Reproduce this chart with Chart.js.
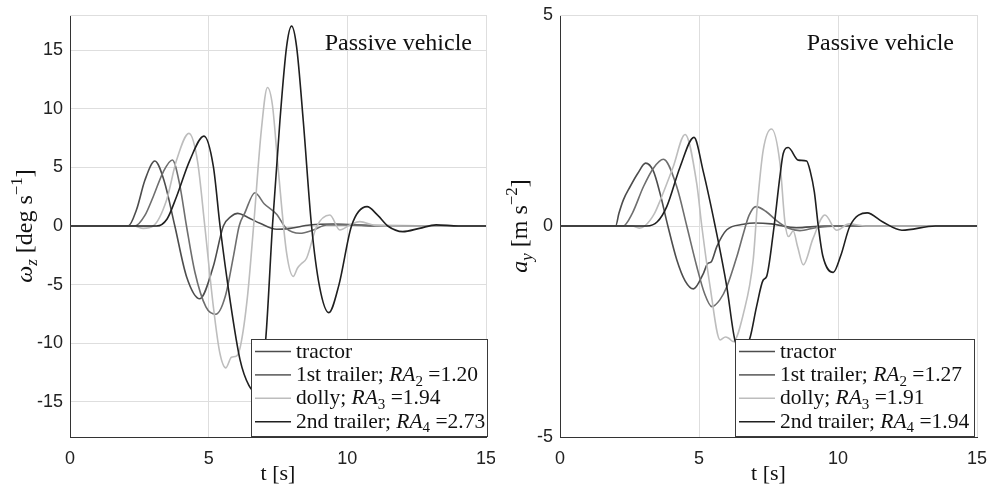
<!DOCTYPE html>
<html>
<head>
<meta charset="utf-8">
<script src="https://cdn.jsdelivr.net/npm/chart.js@4.4.1/dist/chart.umd.min.js"></script>
<style>
  html, body { margin: 0; padding: 0; background: #fff; }
  #wrap { position: relative; width: 990px; height: 487px; }
  canvas { position: absolute; top: 0; }
  #yaw { left: 0; }
  #acc { left: 495px; }
</style>
</head>
<body>
<div id="wrap">
  <canvas id="yaw" width="495" height="487"></canvas>
  <canvas id="acc" width="495" height="487"></canvas>
</div>
<script>
// series names + RA values shown in legend
const seriesNames = ['tractor', '1st trailer', 'dolly', '2nd trailer'];
const raYaw = [null, '1.20', '1.94', '2.73'];
const raAcc = [null, '1.27', '1.91', '1.94'];
const seriesColors = ['#4d4d4d', '#6e6e6e', '#bdbdbd', '#1f1f1f'];

const xTicks = [0, 5, 10, 15];
const yawTicks = [-15, -10, -5, 0, 5, 10, 15];
const accTicks = [-5, 0, 5];

// yaw rate, deg/s
const yawTractorT = [0, 2.1, 2.4, 2.7, 3.06, 3.4, 3.78, 4.2, 4.68, 5.16, 5.53, 5.8, 6.05, 6.4, 6.85, 7.45, 7.93, 8.65, 9.5, 11, 15];
const yawTractorV = [0, 0, 1.4, 3.9, 5.54, 3.8, 0, -4.3, -6.2, -3.5, 0, 0.8, 1.08, 0.75, 0.23, -0.28, -0.2, 0.08, 0.17, 0.03, 0];
const yawTrailer1T = [0, 2.34, 2.7, 3.0, 3.36, 3.69, 3.95, 4.2, 4.5, 4.9, 5.26, 5.6, 5.9, 6.1, 6.3, 6.67, 7.0, 7.45, 7.8, 8.29, 8.77, 9.25, 10, 11, 15];
const yawTrailer1V = [0, 0, 0.9, 2.5, 4.6, 5.63, 3.6, 0, -3.9, -6.9, -7.53, -6.0, -2.5, 0, 1.1, 2.84, 1.9, 1.0, -0.2, -0.62, -0.34, 0.09, 0.1, 0, 0];
const yawDollyT = [0, 2.3, 2.64, 3.0, 3.48, 3.84, 4.29, 4.6, 4.86, 5.17, 5.4, 5.62, 5.82, 6.0, 6.15, 6.4, 6.62, 6.9, 7.12, 7.3, 7.5, 7.81, 8.05, 8.2, 8.35, 8.53, 8.89, 9.37, 9.73, 10.1, 10.45, 11, 12, 15];
const yawDollyV = [0, 0, -0.2, 0, 2.2, 5.6, 7.9, 5.5, 0, -6.9, -10.8, -12.1, -11.2, -11.1, -10.2, -6.0, 0, 8.2, 11.82, 10.3, 5.06, -2.3, -4.3, -3.6, -3.2, -2.75, -0.06, 0.94, -0.34, 0.1, 0.37, 0.05, 0, 0];
const yawTrailer2T = [0, 3.12, 3.5, 3.84, 4.32, 4.83, 5.17, 5.41, 5.77, 6.13, 6.45, 6.68, 6.9, 7.06, 7.3, 7.57, 7.81, 7.99, 8.17, 8.41, 8.71, 9.0, 9.33, 9.7, 10.15, 10.71, 11.1, 11.46, 12.0, 12.6, 13.2, 14, 15];
const yawTrailer2V = [0, 0, 0.6, 2.5, 5.6, 7.67, 5.06, 0, -6.3, -11.4, -13.6, -14.1, -12.5, -9.58, 0, 9.0, 15.3, 17.05, 15.3, 9.0, 0, -5.2, -7.39, -5.0, 0, 1.65, 0.9, 0, -0.48, -0.2, 0.1, 0, 0];

// lateral acceleration, m/s^2
const accTractorT = [0, 2.0, 2.12, 2.28, 2.52, 2.8, 3.08, 3.36, 3.6, 3.88, 4.2, 4.5, 4.8, 5.16, 5.3, 5.45, 5.64, 6.0, 6.6, 7.0, 7.6, 8.5, 9.5, 15];
const accTractorV = [0, 0, 0.3, 0.62, 0.93, 1.25, 1.49, 1.3, 0.77, 0, -0.8, -1.3, -1.49, -1.12, -0.9, -0.84, -0.49, -0.09, 0.04, 0.07, 0.05, -0.04, 0, 0];
const accTrailer1T = [0, 2.27, 2.6, 3.0, 3.36, 3.72, 4.2, 4.56, 4.92, 5.2, 5.46, 5.75, 6.0, 6.36, 6.6, 6.8, 7.05, 7.4, 7.8, 8.2, 8.63, 9.2, 10, 15];
const accTrailer1V = [0, 0, 0.3, 0.93, 1.37, 1.58, 0.93, 0, -0.96, -1.6, -1.91, -1.75, -1.44, -0.73, -0.17, 0.25, 0.46, 0.35, 0.12, -0.05, -0.11, -0.04, 0, 0];
const accDollyT = [0, 2.6, 2.85, 3.05, 3.4, 3.6, 4.07, 4.5, 4.92, 5.1, 5.4, 5.76, 5.95, 6.07, 6.23, 6.6, 6.95, 7.1, 7.31, 7.61, 7.91, 8.09, 8.22, 8.39, 8.55, 8.75, 9.1, 9.53, 9.95, 10.4, 11, 15];
const accDollyV = [0, 0, -0.05, 0, 0.3, 0.6, 1.4, 2.17, 1.0, 0, -1.44, -2.7, -2.63, -2.66, -2.74, -2.07, -0.8, 0.5, 1.8, 2.3, 1.5, 0.1, -0.25, -0.12, -0.5, -0.92, -0.3, 0.26, -0.1, 0.05, 0, 0];
const accTrailer2T = [0, 3.12, 3.5, 3.84, 4.32, 4.82, 5.15, 5.58, 6.0, 6.29, 6.55, 6.83, 7.07, 7.31, 7.43, 7.67, 7.91, 8.03, 8.21, 8.57, 8.87, 9.0, 9.15, 9.29, 9.45, 9.83, 10.1, 10.43, 11.05, 11.6, 12.3, 13.5, 15];
const accTrailer2V = [0, 0, 0.1, 0.46, 1.4, 2.1, 1.3, 0, -1.44, -2.7, -2.95, -2.66, -1.91, -1.28, -1.2, -0.17, 1.17, 1.72, 1.86, 1.56, 1.54, 1.3, 0.8, 0, -0.7, -1.1, -0.7, 0, 0.31, 0.1, -0.1, 0, 0];

const SERIF = '"Liberation Serif", "Times New Roman", serif';
const SANS = '"Liberation Sans", Arial, sans-serif';

function pts(ts, vs) {
  return ts.map((t, i) => ({ x: t, y: vs[i] }));
}

// draws text made of pieces (italic, sub/superscript)
function drawRich(ctx, x, y, parts, size, align) {
  const small = Math.round(size * 0.7);
  const fonts = parts.map(p => (p.it ? 'italic ' : '') + (p.sub || p.sup ? small : size) + 'px ' + SERIF);
  let w = 0;
  parts.forEach((p, i) => { ctx.font = fonts[i]; w += ctx.measureText(p.t).width; });
  let cx = x;
  if (align === 'center') cx = x - w / 2;
  if (align === 'right') cx = x - w;
  ctx.textBaseline = 'alphabetic';
  ctx.textAlign = 'left';
  parts.forEach((p, i) => {
    ctx.font = fonts[i];
    let dy = 0;
    if (p.sub) dy = size * 0.22;
    if (p.sup) dy = -size * 0.4;
    ctx.fillText(p.t, cx, y + dy);
    cx += ctx.measureText(p.t).width;
  });
}

function legendParts(ra) {
  return seriesNames.map((n, i) => {
    if (!ra[i]) return [{ t: n }];
    return [{ t: n + '; ' }, { t: 'RA', it: 1 }, { t: String(i + 1), sub: 1 }, { t: ' =' + ra[i] }];
  });
}

function makeDecor(cfg) {
  return {
    id: 'decor',
    beforeDatasetsDraw(chart) {
      const ctx = chart.ctx, a = chart.chartArea;
      ctx.save();
      ctx.strokeStyle = '#dedede';
      ctx.lineWidth = 1;
      ctx.beginPath();
      ctx.moveTo(a.left, a.top + 0.5);
      ctx.lineTo(a.right, a.top + 0.5);
      ctx.stroke();
      ctx.restore();
    },
    afterDatasetsDraw(chart) {
      const ctx = chart.ctx, a = chart.chartArea;
      ctx.save();
      ctx.fillStyle = '#111';
      // annotation
      drawRich(ctx, a.right - cfg.noteRight, a.top + 35, [{ t: 'Passive vehicle' }], 24, 'right');

      // legend box
      const bw = cfg.boxW, bh = 98;
      const bl = Math.round(a.right + cfg.boxShift - bw), bt = Math.round(a.bottom - bh);
      ctx.fillStyle = '#fff';
      ctx.fillRect(bl, bt, bw, bh);
      ctx.strokeStyle = '#3a3a3a';
      ctx.lineWidth = 1;
      ctx.strokeRect(bl + 0.5, bt + 0.5, bw - 1, bh - 1);
      cfg.legend.forEach((parts, i) => {
        const cy = bt + 12.5 + i * 23.4;
        ctx.strokeStyle = seriesColors[i];
        ctx.lineWidth = 1.6;
        ctx.beginPath();
        ctx.moveTo(bl + 4, cy);
        ctx.lineTo(bl + 40, cy);
        ctx.stroke();
        ctx.fillStyle = '#111';
        drawRich(ctx, bl + 45, cy + 6, parts, 21.5, 'left');
      });
      ctx.restore();
    },
    afterDraw(chart) {
      const ctx = chart.ctx, a = chart.chartArea;
      ctx.save();
      ctx.translate(32, (a.top + a.bottom) / 2);
      ctx.rotate(-Math.PI / 2);
      ctx.fillStyle = '#111';
      drawRich(ctx, 0, 0, cfg.yTitle, 24, 'center');
      ctx.restore();
    }
  };
}

function makeChart(id, series, yMin, yMax, yTicks, yWidth, padRight, decor) {
  const datasets = series.map((s, i) => ({
    label: seriesNames[i],
    data: pts(s[0], s[1]),
    borderColor: seriesColors[i],
    borderWidth: 1.6,
    pointRadius: 0,
    fill: false,
    cubicInterpolationMode: 'monotone',
    order: 3 - i
  }));
  return new Chart(document.getElementById(id), {
    type: 'line',
    data: { datasets },
    options: {
      responsive: false,
      animation: false,
      layout: { padding: { top: 15, right: padRight, left: 0, bottom: 0 } },
      plugins: { legend: { display: false }, tooltip: { enabled: false } },
      scales: {
        x: {
          type: 'linear', min: 0, max: 15,
          afterBuildTicks: s => { s.ticks = xTicks.map(v => ({ value: v })); },
          afterFit: s => { s.height = 50; s.paddingLeft = 0; s.paddingRight = 0; },
          grid: { color: '#dedede', drawTicks: false },
          border: { color: '#333', width: 1 },
          ticks: { color: '#222', padding: 11, font: { family: SANS, size: 18 } },
          title: { display: true, text: 't [s]', color: '#111', padding: 0, font: { family: SERIF, size: 22 } }
        },
        y: {
          type: 'linear', min: yMin, max: yMax,
          afterBuildTicks: s => { s.ticks = yTicks.map(v => ({ value: v })); },
          afterFit: s => { s.width = yWidth; s.paddingTop = 0; s.paddingBottom = 0; },
          grid: { color: '#dedede', drawTicks: false },
          border: { color: '#333', width: 1 },
          ticks: { color: '#222', padding: 7, font: { family: SANS, size: 18 } }
        }
      }
    },
    plugins: [makeDecor(decor)]
  });
}

makeChart('yaw', [
  [yawTractorT, yawTractorV],
  [yawTrailer1T, yawTrailer1V],
  [yawDollyT, yawDollyV],
  [yawTrailer2T, yawTrailer2V]
], -18, 18, yawTicks, 70, 9, {
  noteRight: 14,
  boxW: 237,
  boxShift: 2,
  legend: legendParts(raYaw),
  yTitle: [{ t: 'ω', it: 1 }, { t: 'z', it: 1, sub: 1 }, { t: ' [deg s' }, { t: '−1', sup: 1 }, { t: ']' }]
});

makeChart('acc', [
  [accTractorT, accTractorV],
  [accTrailer1T, accTrailer1V],
  [accDollyT, accDollyV],
  [accTrailer2T, accTrailer2V]
], -5, 5, accTicks, 65, 13, {
  noteRight: 23,
  boxW: 240,
  boxShift: -2,
  legend: legendParts(raAcc),
  yTitle: [{ t: 'a', it: 1 }, { t: 'y', it: 1, sub: 1 }, { t: ' [m s' }, { t: '−2', sup: 1 }, { t: ']' }]
});
</script>
</body>
</html>
